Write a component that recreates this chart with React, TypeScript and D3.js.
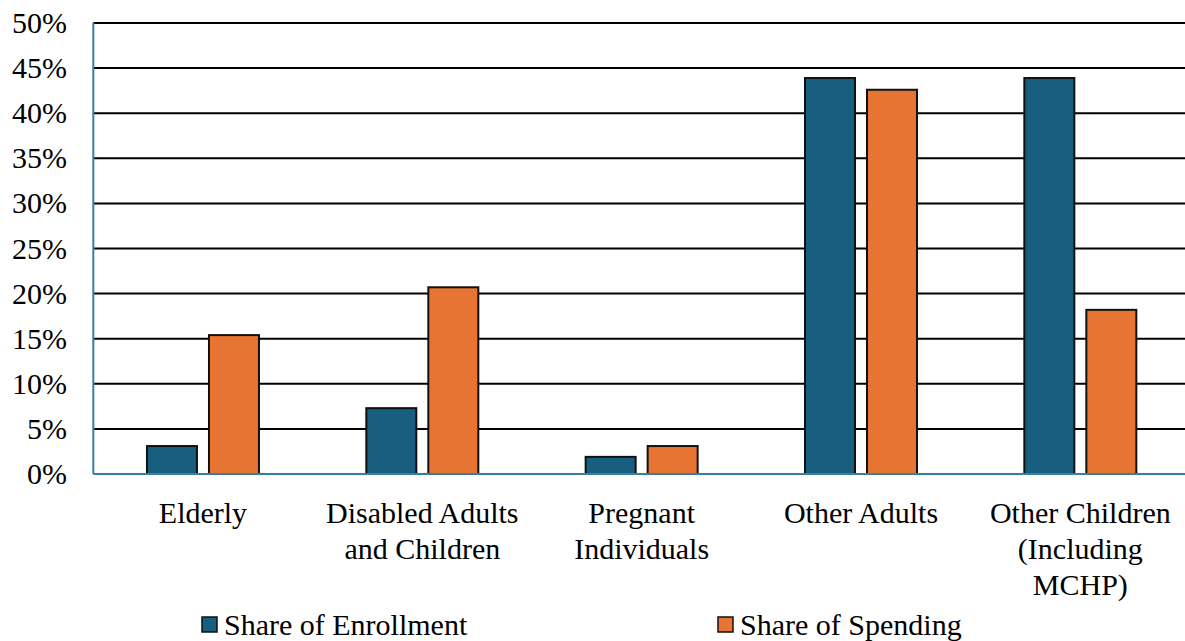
import React from "react";
import * as d3 from "d3";

const categories: string[][] = [
  ["Elderly"],
  ["Disabled Adults", "and Children"],
  ["Pregnant", "Individuals"],
  ["Other Adults"],
  ["Other Children", "(Including", "MCHP)"],
];
const enrollment = [3.1, 7.3, 1.9, 43.9, 43.9];
const spending = [15.4, 20.7, 3.1, 42.6, 18.2];
const yTicks = [0, 5, 10, 15, 20, 25, 30, 35, 40, 45, 50];
const seriesNames = ["Share of Enrollment", "Share of Spending"];
const colors = ["#175e7f", "#e87433"];

const W = 1185;
const H = 641;
const left = 93.3;
const right = 1190;
const top = 23;
const bottom = 474;
const font =
  "'Times New Roman', Times, 'Liberation Serif', 'Noto Serif', FreeSerif, 'DejaVu Serif', serif";
const textStyle = { fontFamily: font };

export default function App() {
  const x = d3
    .scaleBand<number>()
    .domain(d3.range(categories.length))
    .range([left, right]);
  const y = d3.scaleLinear().domain([0, 50]).range([bottom, top]);
  const barW = 50;
  const gap = 12;
  const series = [enrollment, spending];

  return (
    <svg
      width={W}
      height={H}
      style={{ position: "absolute", left: 0, top: 0, background: "#fff" }}
    >
      {yTicks.map((t) =>
        t === 0 ? null : (
          <line
            key={t}
            x1={left}
            x2={W}
            y1={y(t)}
            y2={y(t)}
            stroke="#000"
            strokeWidth={2}
          />
        )
      )}
      {yTicks.map((t) => (
        <text
          key={"l" + t}
          x={67}
          y={y(t) + 10}
          textAnchor="end"
          fontSize={30}
          fill="#000"
          style={textStyle}
        >
          {t}%
        </text>
      ))}
      {series.map((vals, si) =>
        vals.map((v, i) => {
          const cx = (x(i) as number) + x.bandwidth() / 2;
          const bx = si === 0 ? cx - gap / 2 - barW : cx + gap / 2;
          return (
            <rect
              key={si + "-" + i}
              x={bx}
              y={y(v)}
              width={barW}
              height={y(0) - y(v)}
              fill={colors[si]}
              stroke="#111"
              strokeWidth={2}
            />
          );
        })
      )}
      <line x1={left} x2={left} y1={top} y2={bottom} stroke="#3b7ea3" strokeWidth={2} />
      <line x1={left} x2={W} y1={bottom} y2={bottom} stroke="#3b7ea3" strokeWidth={2} />
      {categories.map((lines, i) => {
        const cx = (x(i) as number) + x.bandwidth() / 2;
        return (
          <text
            key={"c" + i}
            x={cx}
            y={523}
            textAnchor="middle"
            fontSize={30}
            fill="#000"
            style={textStyle}
          >
            {lines.map((ln, j) => (
              <tspan key={j} x={cx} dy={j === 0 ? 0 : 36}>
                {ln}
              </tspan>
            ))}
          </text>
        );
      })}
      {seriesNames.map((name, si) => {
        const lx = si === 0 ? 202 : 718;
        return (
          <g key={name}>
            <rect x={lx} y={617} width={15} height={15} fill={colors[si]} stroke="#111" strokeWidth={1.5} />
            <text x={lx + 22} y={635} fontSize={30} fill="#000" style={textStyle}>
              {name}
            </text>
          </g>
        );
      })}
    </svg>
  );
}
